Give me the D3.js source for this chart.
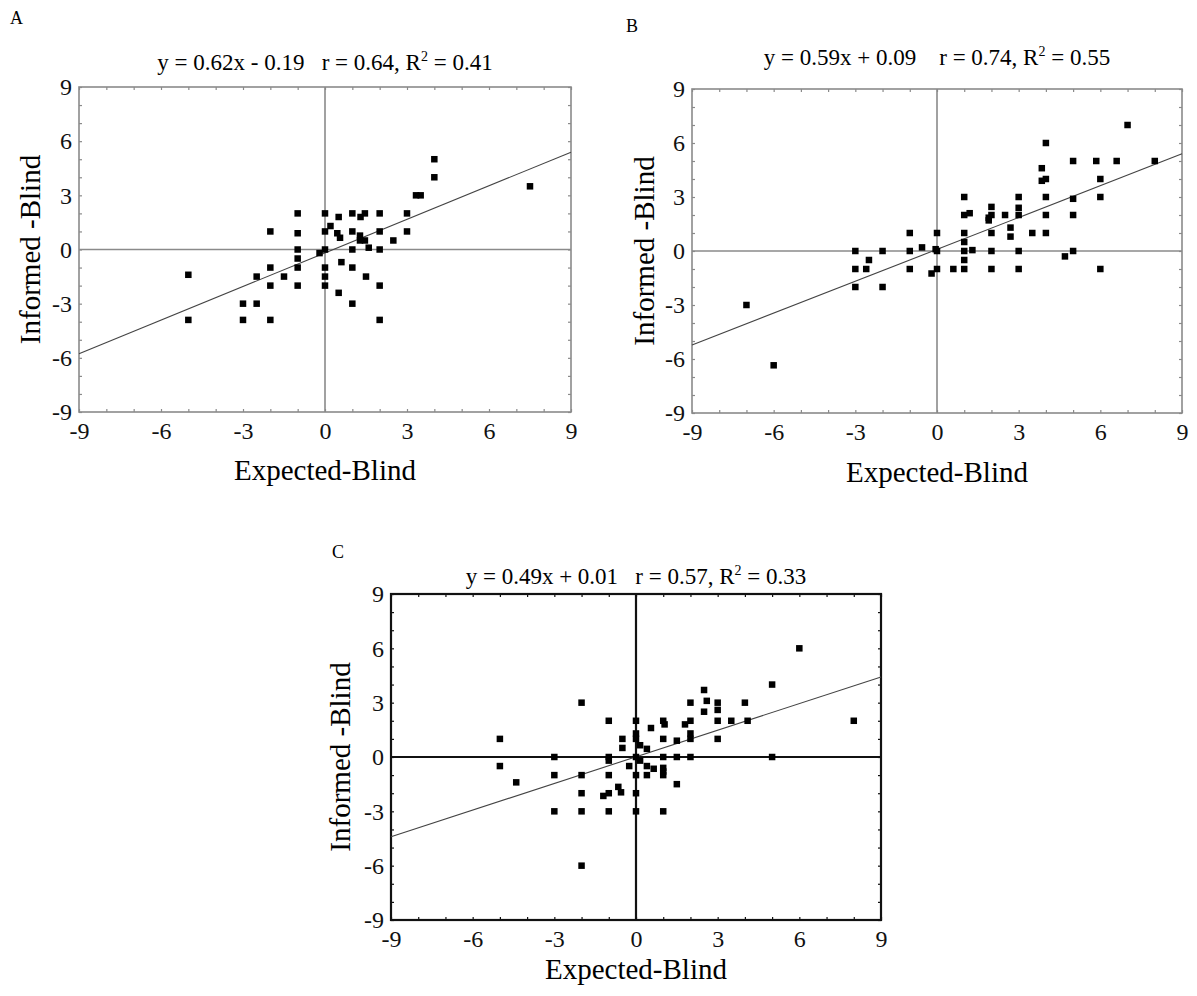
<!DOCTYPE html>
<html>
<head>
<meta charset="utf-8">
<script src="https://cdn.jsdelivr.net/npm/d3@7"></script>
<style>
  body { margin: 0; background: #fff; }
  svg { font-family: "Liberation Serif", "Times New Roman", serif; }
</style>
</head>
<body>
<svg width="1197" height="996"></svg>
<script>
// tick labels shared by all panels
const tickValues = [-9, -6, -3, 0, 3, 6, 9];
const minorTicks = d3.range(-9, 10);

// panel A: [Expected-Blind, Informed-Blind]
const pointsA = [
	[4, 5], [4, 4], [3.33, 3], [3.5, 3], [7.5, 3.5],
	[-1, 2], [0, 2], [0.5, 1.8], [1, 2], [1.3, 1.8], [1.46, 2], [2, 2], [3, 2],
	[-2, 1], [-1, 0.9], [0, 1], [0.2, 1.3], [0.45, 0.9], [0.55, 0.65], [1, 1],
	[1.28, 0.77], [1.46, 0.5], [1.28, 0.5], [2, 1], [3, 1], [2.5, 0.5],
	[-1, 0], [0, 0], [-0.2, -0.2], [1, 0], [1.6, 0.1], [2, 0],
	[-1, -0.5], [-1, -1], [-2, -1], [0, -1], [0.6, -0.7], [1, -1],
	[0, -1.5], [-2.5, -1.5], [-1.5, -1.5], [1.5, -1.5],
	[-2, -2], [-1, -2], [0, -2], [2, -2], [0.5, -2.4],
	[-5, -1.4], [-3, -3], [-2.5, -3], [1, -3],
	[-5, -3.9], [-3, -3.9], [-2, -3.9], [2, -3.9]
];

// panel B
const pointsB = [
	[-7, -3], [-6, -6.35],
	[-3, 0], [-3, -1], [-3, -2], [-2.5, -0.5], [-2.6, -1], [-2, 0], [-2, -2],
	[-1, 1], [-1, 0], [-1, -1], [-0.55, 0.2], [0, 1], [0, 0], [-0.05, 0.1], [0, -1],
	[-0.2, -1.25], [0.6, -1],
	[1, 3], [1, 2], [1.2, 2.1], [1, 1], [1, 0.5], [1, 0], [1, -0.5], [1, -1], [1.3, 0.05],
	[2, 2.45], [2, 2], [1.9, 1.85], [1.9, 1.7], [2, 1], [2, 0], [2, -1],
	[2.5, 2], [2.7, 1.3], [2.7, 0.8],
	[3, 3], [3, 2.4], [3, 2], [3, 0], [3, -1], [3.5, 1],
	[4, 6], [3.85, 4.6], [3.85, 3.9], [4, 4], [4, 3], [4, 2], [4, 1], [4.7, -0.3],
	[5, 5], [5, 2.9], [5, 2], [5, 0], [5.85, 5], [6, 4], [6, 3], [6, -1],
	[6.6, 5], [7, 7], [8, 5]
];

// panel C
const pointsC = [
	[-2, 3], [-5, 1], [-5, -0.5], [-4.4, -1.4],
	[-3, 0], [-3, -1], [-3, -3], [-2, -1], [-2, -2], [-2, -3], [-2, -6],
	[-1, 2], [-1, 0], [-1, -0.2], [-1, -1], [-1, -2], [-1.2, -2.15], [-1, -3],
	[-0.65, -1.65], [-0.55, -1.95], [-0.5, 1], [-0.5, 0.5], [-0.25, -0.5],
	[0, 2], [0, 1.3], [0, 1], [0.15, 0.65], [0.4, 0.45], [0, 0], [0.15, -0.2],
	[0.4, -0.5], [0, -1], [0.4, -1], [0.65, -0.65], [0, -2], [0, -3],
	[0.55, 1.6], [1, 2], [1.05, 1.8], [1, 1], [1, 0], [1, -0.6], [1, -0.8], [1, -1], [1, -3],
	[1.5, 0.9], [1.5, 0], [1.5, -1.5],
	[2, 3], [2, 2], [1.8, 1.8], [2, 1.3], [2, 1], [2, 0],
	[2.5, 3.7], [2.6, 3.1], [2.5, 2.5], [3, 3], [3, 2.6], [3, 2], [3, 1],
	[3.5, 2], [4, 3], [4.1, 2], [5, 4], [5, 0], [6, 6], [8, 2]
];

// regression: [slope, intercept]
const fitA = [0.62, -0.19];
const fitB = [0.59, 0.09];
const fitC = [0.49, 0.01];

const svg = d3.select("svg");

const panels = [
	{ letter: "A", points: pointsA, fit: fitA, eq: "y = 0.62x - 0.19   r = 0.64, R", r2: " = 0.41",
	  box: { x0: 79, x1: 571, y0: 87, y1: 412 }, letterPos: [10, 24], titleY: 70, yLabelX: 30, xLabelY: 480,
	  frame: "#8a8a8a", frameW: 1.6 },
	{ letter: "B", points: pointsB, fit: fitB, eq: "y = 0.59x + 0.09    r = 0.74, R", r2: " = 0.55",
	  box: { x0: 692, x1: 1182, y0: 89, y1: 413 }, letterPos: [626, 32], titleY: 65, yLabelX: 644, xLabelY: 482,
	  frame: "#8a8a8a", frameW: 1.6 },
	{ letter: "C", points: pointsC, fit: fitC, eq: "y = 0.49x + 0.01   r = 0.57, R", r2: " = 0.33",
	  box: { x0: 391, x1: 881, y0: 594, y1: 920 }, letterPos: [332, 558], titleY: 584, yLabelX: 340, xLabelY: 979,
	  frame: "#111", frameW: 2.2 }
];

panels.forEach((p) => {
	const b = p.box;
	const xScale = d3.scaleLinear().domain([-9, 9]).range([b.x0, b.x1]);
	const yScale = d3.scaleLinear().domain([-9, 9]).range([b.y1, b.y0]);
	const g = svg.append("g");

	// panel letter
	g.append("text")
		.attr("x", p.letterPos[0])
		.attr("y", p.letterPos[1])
		.style("font-size", "18px")
		.text(p.letter);

	// equation title
	const t = g.append("text")
		.attr("x", (b.x0 + b.x1) / 2)
		.attr("y", p.titleY)
		.attr("text-anchor", "middle")
		.style("font-size", "23px")
		.style("white-space", "pre");
	t.append("tspan").text(p.eq);
	t.append("tspan").attr("dy", -9).style("font-size", "14px").text("2");
	t.append("tspan").attr("dy", 9).text(p.r2);

	// inner minor ticks on all sides
	const tickStyle = (sel) => {
		sel.select(".domain").remove();
		sel.selectAll("line").attr("stroke", p.frame).attr("stroke-width", 1.2);
		sel.selectAll("text").remove();
	};
	g.append("g").attr("transform", `translate(0,${b.y1})`)
		.call(d3.axisBottom(xScale).tickValues(minorTicks).tickSize(-3)).call(tickStyle);
	g.append("g").attr("transform", `translate(0,${b.y0})`)
		.call(d3.axisTop(xScale).tickValues(minorTicks).tickSize(-3)).call(tickStyle);
	g.append("g").attr("transform", `translate(${b.x0},0)`)
		.call(d3.axisLeft(yScale).tickValues(minorTicks).tickSize(-3)).call(tickStyle);
	g.append("g").attr("transform", `translate(${b.x1},0)`)
		.call(d3.axisRight(yScale).tickValues(minorTicks).tickSize(-3)).call(tickStyle);

	// tick labels (plain hyphen minus, as in the figure)
	const labelStyle = (sel) => {
		sel.select(".domain").remove();
		sel.selectAll("line").remove();
		sel.selectAll("text")
			.attr("fill", "#111")
			.style("font-size", "24px")
			.style("font-family", "Liberation Serif, serif");
	};
	g.append("g").attr("transform", `translate(0,${b.y1})`)
		.call(d3.axisBottom(xScale).tickValues(tickValues).tickSize(0).tickPadding(10).tickFormat((d) => String(d)))
		.call(labelStyle);
	g.append("g").attr("transform", `translate(${b.x0},0)`)
		.call(d3.axisLeft(yScale).tickValues(tickValues).tickSize(0).tickPadding(7).tickFormat((d) => String(d)))
		.call(labelStyle);

	// zero lines
	g.append("line")
		.attr("x1", xScale(0)).attr("x2", xScale(0))
		.attr("y1", b.y0).attr("y2", b.y1)
		.attr("stroke", p.frame).attr("stroke-width", p.frameW);
	g.append("line")
		.attr("x1", b.x0).attr("x2", b.x1)
		.attr("y1", yScale(0)).attr("y2", yScale(0))
		.attr("stroke", p.frame).attr("stroke-width", p.frameW);

	// frame
	g.append("rect")
		.attr("x", b.x0).attr("y", b.y0)
		.attr("width", b.x1 - b.x0).attr("height", b.y1 - b.y0)
		.attr("fill", "none")
		.attr("stroke", p.frame).attr("stroke-width", p.frameW);

	// regression line
	const line = d3.line().x((d) => xScale(d)).y((d) => yScale(p.fit[0] * d + p.fit[1]));
	g.append("path")
		.datum([-9, 9])
		.attr("d", line)
		.attr("fill", "none")
		.attr("stroke", "#444")
		.attr("stroke-width", 1.1);

	// points
	const s = 6.5;
	g.selectAll(".pt")
		.data(p.points)
		.enter()
		.append("rect")
		.attr("class", "pt")
		.attr("x", (d) => xScale(d[0]) - s / 2)
		.attr("y", (d) => yScale(d[1]) - s / 2)
		.attr("width", s)
		.attr("height", s)
		.attr("fill", "#000");

	// axis titles
	g.append("text")
		.attr("x", (b.x0 + b.x1) / 2)
		.attr("y", p.xLabelY)
		.attr("text-anchor", "middle")
		.style("font-size", "29px")
		.text("Expected-Blind");
	g.append("text")
		.attr("transform", `translate(${p.yLabelX},${(b.y0 + b.y1) / 2}) rotate(-90)`)
		.attr("text-anchor", "middle")
		.attr("dy", "0.35em")
		.style("font-size", "29px")
		.text("Informed -Blind");
});
</script>
</body>
</html>
